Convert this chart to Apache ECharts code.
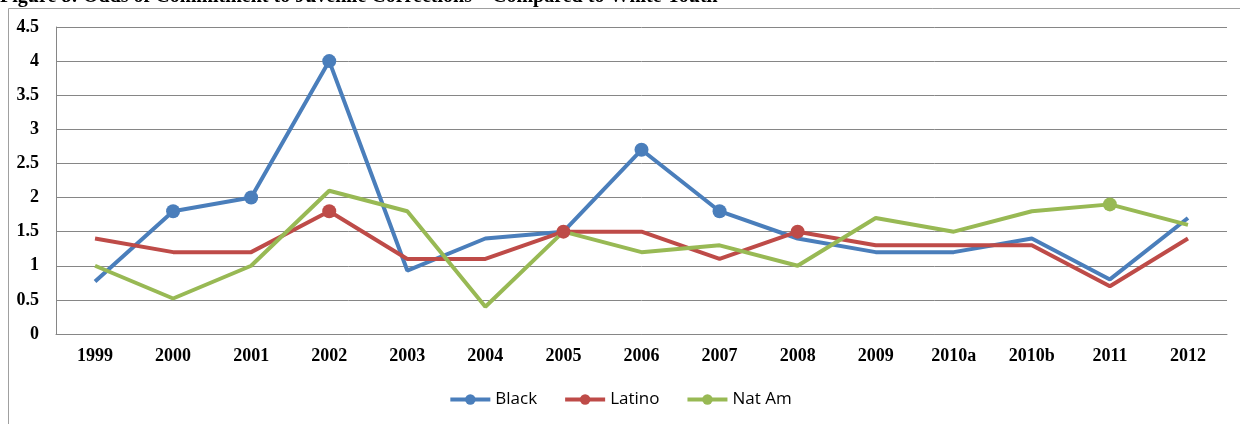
<!DOCTYPE html>
<html>
<head>
<meta charset="utf-8">
<script src="https://cdn.jsdelivr.net/npm/echarts@6/dist/echarts.min.js"></script>
<style>
  html, body { margin: 0; padding: 0; background: #fff; }
  #chart { width: 1240px; height: 424px; }
</style>
</head>
<body>
<div id="chart"></div>
<script>
// categories along the bottom
const years = ['1999', '2000', '2001', '2002', '2003', '2004', '2005', '2006', '2007', '2008', '2009', '2010a', '2010b', '2011', '2012']

// odds compared to white youth
const black = [0.77, 1.8, 2.0, 4.0, 0.93, 1.4, 1.5, 2.7, 1.8, 1.4, 1.2, 1.2, 1.4, 0.8, 1.7]
const latino = [1.4, 1.2, 1.2, 1.8, 1.1, 1.1, 1.5, 1.5, 1.1, 1.5, 1.3, 1.3, 1.3, 0.7, 1.4]
const natAm = [1.0, 0.52, 1.0, 2.1, 1.8, 0.4, 1.5, 1.2, 1.3, 1.0, 1.7, 1.5, 1.8, 1.9, 1.6]

// which points carry a marker in the original
const blackMarks = ['2000', '2001', '2002', '2006', '2007']
const latinoMarks = ['2002', '2005', '2008']
const natAmMarks = ['2011']

const chart = echarts.init(document.getElementById('chart'))

function withMarks(values, marks) {
  return values.map((v, i) => ({
    value: v,
    symbolSize: marks.includes(years[i]) ? 14 : 0
  }))
}

function lineSeries(name, color, values, marks) {
  return {
    name: name,
    type: 'line',
    symbol: 'circle',
    showAllSymbol: true,
    symbolSize: 14,
    itemStyle: { color: color },
    lineStyle: { color: color, width: 4 },
    emphasis: { disabled: true },
    animation: false,
    data: withMarks(values, marks)
  }
}

const serif = '"Liberation Serif", "DejaVu Serif", serif'

const option = {
  animation: false,
  graphic: [
    {
      type: 'rect',
      shape: { x: 8.5, y: 8.5, width: 1300, height: 500 },
      style: { fill: 'none', stroke: '#a0a0a0', lineWidth: 1 },
      silent: true,
      z: -1
    },
    {
      type: 'text',
      left: 0,
      style: {
        x: 0,
        y: 7,
        text: 'Figure 8: Odds of Commitment to Juvenile Corrections \u2013 Compared to White Youth',
        font: 'bold 20px ' + serif,
        fill: '#000',
        verticalAlign: 'bottom'
      },
      silent: true
    }
  ],
  legend: {
    bottom: 11,
    left: 'center',
    itemWidth: 40,
    itemHeight: 13,
    itemGap: 26,
    lineStyle: { width: 4 },
    textStyle: { fontFamily: '"Open Sans", "Noto Sans", sans-serif', fontSize: 17, color: '#000' },
    data: ['Black', 'Latino', 'Nat Am']
  },
  grid: {
    left: 56,
    right: 13,
    top: 27,
    bottom: 90,
    containLabel: false
  },
  xAxis: {
    type: 'category',
    data: years,
    boundaryGap: true,
    axisLine: { lineStyle: { color: '#868686', width: 1 } },
    axisTick: { show: false },
    axisLabel: {
      color: '#000',
      fontFamily: serif,
      fontWeight: 'bold',
      fontSize: 18,
      margin: 13
    }
  },
  yAxis: {
    type: 'value',
    min: 0,
    max: 4.5,
    interval: 0.5,
    axisLine: { show: true, lineStyle: { color: '#868686', width: 1 } },
    axisTick: { show: false },
    splitLine: { lineStyle: { color: '#868686', width: 1 } },
    axisLabel: {
      color: '#000',
      fontFamily: serif,
      fontWeight: 'bold',
      fontSize: 18,
      margin: 17
    }
  },
  series: [
    lineSeries('Black', '#4a7ebb', black, blackMarks),
    lineSeries('Latino', '#be4b48', latino, latinoMarks),
    lineSeries('Nat Am', '#98b954', natAm, natAmMarks)
  ]
}

chart.setOption(option)
</script>
</body>
</html>
